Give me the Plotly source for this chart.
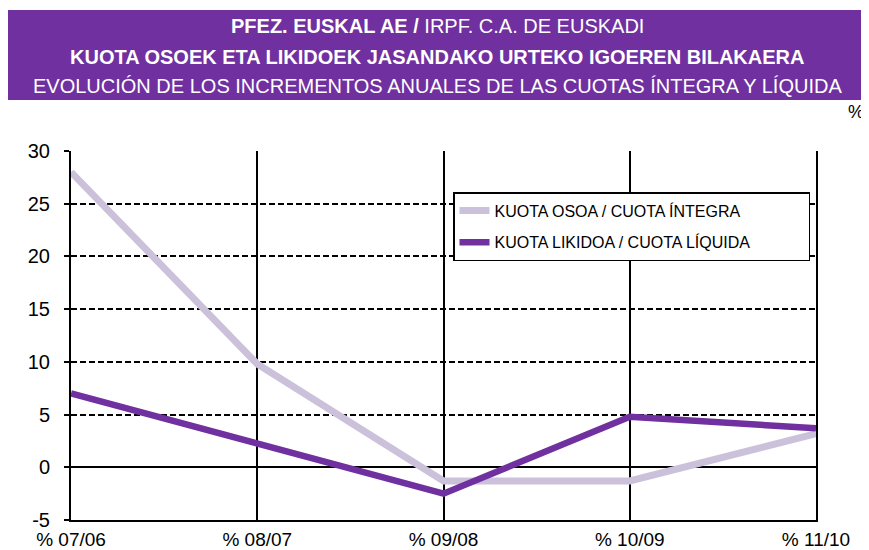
import plotly.graph_objects as go

categories = ["% 07/06", "% 08/07", "% 09/08", "% 10/09", "% 11/10"]
cuota_integra = [28.0, 9.8, -1.3, -1.3, 3.2]
cuota_liquida = [7.0, 2.2, -2.5, 4.8, 3.7]
series_names = ["KUOTA OSOA / CUOTA ÍNTEGRA", "KUOTA LIKIDOA / CUOTA LÍQUIDA"]
y_ticks = [-5, 0, 5, 10, 15, 20, 25, 30]

# the page adds an 8px body margin, so the figure is drawn 8px in from the window corner
OFF = 8
W, H = 869 - OFF, 550 - OFF
L, R, T, B = 71 - OFF, 816 - OFF, 151 - OFF, 520 - OFF


def px_x(x):
    return (x - OFF - L) / (R - L)


def px_y(y):
    return (B - (y - OFF)) / (B - T)


FONT = "Liberation Sans, Arial, sans-serif"
PURPLE = "#7030A0"
LILAC = "#CCC1DA"
PAD = "\u00a0" * 12

fig = go.Figure()
fig.add_trace(go.Scatter(x=categories, y=cuota_integra, mode="lines", name=series_names[0] + PAD,
                         line=dict(color=LILAC, width=7), legendgroup="a"))
fig.add_trace(go.Scatter(x=categories, y=cuota_liquida, mode="lines", name=series_names[1] + PAD,
                         line=dict(color=PURPLE, width=6.5), legendgroup="b"))

fig.update_layout(
    width=W, height=H,
    margin=dict(l=L, r=W - R, t=T, b=H - B, pad=0, autoexpand=False),
    paper_bgcolor="white", plot_bgcolor="white",
    font=dict(family=FONT, color="black"),
    showlegend=True,
    legend=dict(x=px_x(453), y=px_y(192), xanchor="left", yanchor="top",
                bgcolor="white", bordercolor="black", borderwidth=1.5,
                font=dict(size=16, family=FONT), tracegroupgap=8,
                traceorder="grouped"),
    xaxis=dict(type="category", range=[0, 4], showgrid=True, gridcolor="black", gridwidth=2,
               showline=True, linecolor="black", linewidth=2, ticks="", automargin=False,
               ticklabelstandoff=1,
               tickfont=dict(size=19, family=FONT), zeroline=False, fixedrange=True),
    yaxis=dict(range=[-5, 30], tickvals=y_ticks, ticktext=[str(v) for v in y_ticks],
               showgrid=True, gridcolor="black", gridwidth=1.5,
               griddash="6px,3px", showline=True, mirror=True, linecolor="black", linewidth=2,
               ticks="outside", ticklen=5, tickcolor="black", tickwidth=1.5, automargin=False,
               ticklabelstandoff=10,
               tickfont=dict(size=20, family=FONT), zeroline=True, zerolinecolor="black",
               zerolinewidth=2, fixedrange=True),
)

# title banner
fig.add_shape(type="rect", xref="paper", yref="paper",
              x0=px_x(8), x1=px_x(866), y0=px_y(100), y1=px_y(10),
              fillcolor=PURPLE, line=dict(width=0), layer="below")

cx = px_x(437)
fig.add_annotation(xref="paper", yref="paper", x=cx, y=px_y(26), yanchor="middle", xanchor="center",
                   showarrow=False,
                   text="<b>PFEZ. EUSKAL AE /</b> IRPF. C.A. DE EUSKADI",
                   font=dict(size=20, color="white", family=FONT))
fig.add_annotation(xref="paper", yref="paper", x=cx, y=px_y(57), yanchor="middle", xanchor="center",
                   showarrow=False,
                   text="<b>KUOTA OSOEK ETA LIKIDOEK JASANDAKO URTEKO IGOEREN BILAKAERA</b>",
                   font=dict(size=20, color="white", family=FONT))
fig.add_annotation(xref="paper", yref="paper", x=cx, y=px_y(86), yanchor="middle", xanchor="center",
                   showarrow=False,
                   text="EVOLUCIÓN DE LOS INCREMENTOS ANUALES DE LAS CUOTAS ÍNTEGRA Y LÍQUIDA",
                   font=dict(size=20, color="white", family=FONT))
fig.add_annotation(xref="paper", yref="paper", x=px_x(856), y=px_y(112), yanchor="middle", xanchor="center",
                   showarrow=False, text="%", font=dict(size=18, color="black", family=FONT))

fig.write_html("out.html")
